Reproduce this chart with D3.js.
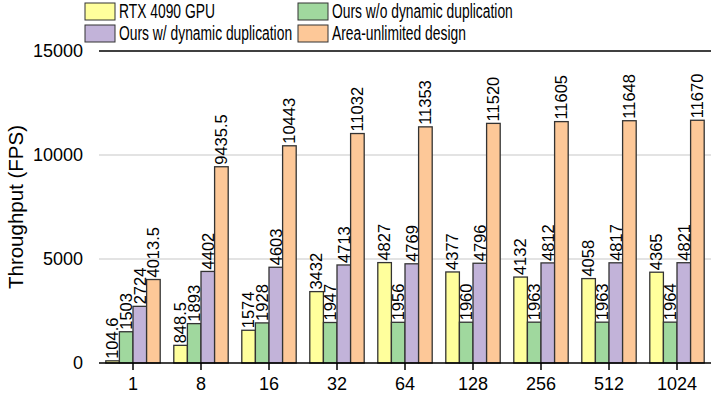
<!DOCTYPE html>
<html>
<head>
<meta charset="utf-8">
<script src="https://cdn.jsdelivr.net/npm/d3@7"></script>
<style>
  body { margin: 0; background: #fff; }
  svg { display: block; font-family: "Liberation Sans", Arial, sans-serif; }
</style>
</head>
<body>
<div id="chart"></div>
<script>
const categories = ["1", "8", "16", "32", "64", "128", "256", "512", "1024"];
const seriesNames = ["RTX 4090 GPU", "Ours w/o dynamic duplication", "Ours w/ dynamic duplication", "Area-unlimited design"];
const gpu = [104.6, 848.5, 1574, 3432, 4827, 4377, 4132, 4058, 4365];
const oursNoDup = [1503, 1893, 1928, 1947, 1956, 1960, 1963, 1963, 1964];
const oursDup = [2724, 4402, 4603, 4713, 4769, 4796, 4812, 4817, 4821];
const areaUnlimited = [4013.5, 9435.5, 10443, 11032, 11353, 11520, 11605, 11648, 11670];
const yTicks = [0, 5000, 10000, 15000];
const colors = ["#ffff9c", "#a0d89e", "#c2b3d9", "#fdc898"];

const width = 714, height = 399;
const margin = { top: 51, right: 3, bottom: 36, left: 99 };

const svg = d3.select("#chart").append("svg")
    .attr("width", width)
    .attr("height", height);

const series = [gpu, oursNoDup, oursDup, areaUnlimited];

const x0 = d3.scaleBand()
    .domain(categories)
    .range([margin.left, width - margin.right])
    .paddingInner(0.2)
    .paddingOuter(0.1);

const x1 = d3.scaleBand()
    .domain(d3.range(series.length))
    .range([0, x0.bandwidth()]);

const y = d3.scaleLinear()
    .domain([0, 15000])
    .range([height - margin.bottom, margin.top]);

// Gridlines
svg.append("g")
    .selectAll("line")
    .data(yTicks.filter(d => d > 0 && d < 15000))
    .join("line")
    .attr("x1", margin.left).attr("x2", width - margin.right)
    .attr("y1", d => y(d)).attr("y2", d => y(d))
    .attr("stroke", "#c8c8c8")
    .attr("stroke-width", 1.2);

// Top line
svg.append("line")
    .attr("x1", margin.left).attr("x2", width - margin.right)
    .attr("y1", y(15000)).attr("y2", y(15000))
    .attr("stroke", "#000").attr("stroke-width", 1.5);

// Y tick labels
svg.append("g")
    .selectAll("text")
    .data(yTicks)
    .join("text")
    .attr("x", margin.left - 16)
    .attr("y", d => y(d))
    .attr("dy", "0.35em")
    .attr("text-anchor", "end")
    .attr("font-size", 18)
    .text(d => d);

// Y title
svg.append("text")
    .attr("transform", `translate(23,${(y(0) + y(15000)) / 2}) rotate(-90)`)
    .attr("text-anchor", "middle")
    .attr("font-size", 20.5)
    .text("Throughput (FPS)");

// Bars
const groups = svg.append("g")
    .selectAll("g")
    .data(categories)
    .join("g")
    .attr("transform", d => `translate(${x0(d)},0)`);

groups.selectAll("rect")
    .data((d, i) => series.map((s, k) => ({ k, v: s[i] })))
    .join("rect")
    .attr("x", d => x1(d.k))
    .attr("y", d => y(d.v))
    .attr("width", x1.bandwidth())
    .attr("height", d => y(0) - y(d.v))
    .attr("fill", d => colors[d.k])
    .attr("stroke", "#333")
    .attr("stroke-width", 1.3);

groups.selectAll("text")
    .data((d, i) => series.map((s, k) => ({ k, v: s[i] })))
    .join("text")
    .attr("transform", d => `translate(${x1(d.k) + x1.bandwidth() - 1},${y(d.v) - 2}) rotate(-90)`)
    .attr("font-size", 16.5)
    .text(d => d.v);

// X axis
svg.append("line")
    .attr("x1", margin.left).attr("x2", width - margin.right)
    .attr("y1", y(0)).attr("y2", y(0))
    .attr("stroke", "#000").attr("stroke-width", 1.5);

const xAxis = svg.append("g");
xAxis.selectAll("line")
    .data(categories)
    .join("line")
    .attr("x1", d => x0(d) + x0.bandwidth() / 2)
    .attr("x2", d => x0(d) + x0.bandwidth() / 2)
    .attr("y1", y(0)).attr("y2", y(0) + 7)
    .attr("stroke", "#000").attr("stroke-width", 1.5);
xAxis.selectAll("text")
    .data(categories)
    .join("text")
    .attr("x", d => x0(d) + x0.bandwidth() / 2)
    .attr("y", y(0) + 27)
    .attr("text-anchor", "middle")
    .attr("font-size", 18)
    .text(d => d);

// Legend
const legendPos = [[85, 3], [298, 3], [85, 25], [298, 25]];
const legend = svg.append("g")
    .selectAll("g")
    .data(seriesNames)
    .join("g")
    .attr("transform", (d, i) => `translate(${legendPos[i][0]},${legendPos[i][1]})`);
legend.append("rect")
    .attr("width", 30).attr("height", 17)
    .attr("fill", (d, i) => colors[i])
    .attr("stroke", "#333").attr("stroke-width", 1);
legend.append("text")
    .attr("transform", "translate(34,8.5) scale(0.71,1)")
    .attr("dy", "0.35em")
    .attr("font-size", 19.5)
    .text(d => d);
</script>
</body>
</html>
